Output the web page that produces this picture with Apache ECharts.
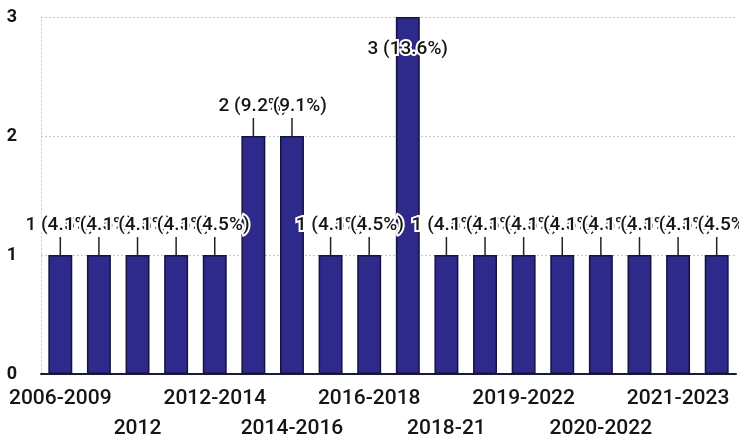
<!DOCTYPE html>
<html>
<head>
<meta charset="utf-8">
<script src="https://cdn.jsdelivr.net/npm/echarts@6/dist/echarts.min.js"></script>
<style>html,body{margin:0;padding:0;background:#fff;}#c{width:739px;height:440px;}</style>
</head>
<body>
<div id="c"></div>
<script>
const categories = ["2006-2009","2010-2012","2012","2012-2013","2012-2014","2013-2015","2014-2016","2015-2017","2016-2018","2017-2019","2018-21","2018-2020","2019-2022","2019-2021","2020-2022","2020-2023","2021-2023","2022-2024"];
const values = [1,1,1,1,1,2,2,1,1,3,1,1,1,1,1,1,1,1];
const yTicks = [0,1,2,3];

const total = values.reduce((a,b)=>a+b,0);
const xLabelStyle = {fontSize:21, fontWeight:500, color:'#151515', hideOverlap:false};
const chart = echarts.init(document.getElementById('c'), null, {renderer:'canvas'});
chart.setOption({
  animation:false,
  textStyle:{fontFamily:'Roboto'},
  grid:{left:41,right:3,top:17,bottom:66,containLabel:false,outerBoundsMode:'none'},
  xAxis:[{
    type:'category',
    data:categories,
    axisTick:{show:false},
    axisLine:{lineStyle:{color:'#1b1a3a',width:2}},
    axisLabel:Object.assign({interval:(i)=> i%4===0, margin:14}, xLabelStyle)
  },{
    type:'category',
    position:'bottom',
    data:categories,
    axisTick:{show:false},
    axisLine:{show:false},
    axisLabel:Object.assign({interval:(i)=> i%4===2, margin:44}, xLabelStyle)
  }],
  yAxis:{
    type:'value',
    min:yTicks[0], max:yTicks[yTicks.length-1], interval:1,
    axisLine:{show:true,lineStyle:{color:'#d0d0d0',type:[2,2],width:1}},
    axisTick:{show:false},
    splitLine:{lineStyle:{color:'#c8c8c8',type:[2,2],width:1.2}},
    axisLabel:{fontSize:18,color:'#151515',fontWeight:'bold',margin:24}
  },
  series:[{
    type:'bar',
    xAxisIndex:0,
    data:values,
    barCategoryGap:'38%',
    itemStyle:{color:'#2e2a8c',borderColor:'#15123f',borderWidth:1.5},
    label:{
      show:true,
      position:'top',
      distance:5,
      fontSize:19,
      fontWeight:500,
      color:'#151515',
      textBorderColor:'#fff',
      textBorderWidth:4,
      formatter:p=> p.value+' ('+(p.value/total*100).toFixed(1)+'%)'
    },
    labelLine:{show:true,lineStyle:{color:'#222',width:1.5}},
    labelLayout:function(p){
      const r = p.labelRect;
      const c = r.y + r.height/2;
      let dy = -15;
      if (c + dy < 12) dy = r.height + 24;
      return {dy:dy};
    }
  }]
});
</script>
</body>
</html>
